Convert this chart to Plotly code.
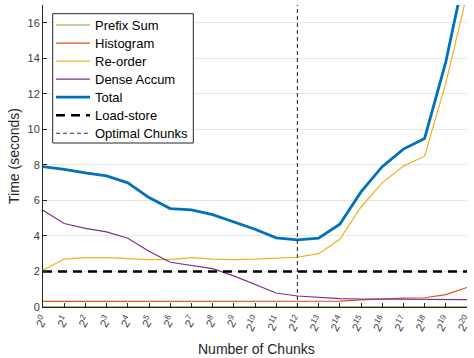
import plotly.graph_objects as go

# Chunk count exponents: number of chunks = 2^k
exponents = list(range(21))
tick_labels = [f"2<sup>{k}</sup>" for k in exponents]

# Per-phase run time in seconds
prefix_sum = [0.01] * 21
histogram = [0.32, 0.32, 0.32, 0.32, 0.32, 0.32, 0.32, 0.32, 0.32, 0.32, 0.32,
             0.32, 0.32, 0.32, 0.33, 0.40, 0.46, 0.50, 0.52, 0.70, 1.10]
reorder = [2.07, 2.70, 2.78, 2.78, 2.72, 2.67, 2.67, 2.78, 2.70, 2.67, 2.69,
           2.74, 2.80, 3.00, 3.81, 5.63, 6.99, 7.93, 8.49, 12.6, 17.6]
dense_accum = [5.45, 4.70, 4.43, 4.23, 3.87, 3.14, 2.52, 2.35, 2.16, 1.75, 1.26,
               0.79, 0.62, 0.53, 0.47, 0.45, 0.45, 0.44, 0.43, 0.42, 0.42]
total = [7.90, 7.75, 7.55, 7.38, 6.99, 6.16, 5.54, 5.47, 5.20, 4.80, 4.38,
         3.89, 3.78, 3.87, 4.66, 6.48, 7.90, 8.89, 9.49, 13.8, 19.4]
load_store = 2.0
optimal_exp = 12

y_max = 17
font_family = "Liberation Sans, Arial, sans-serif"

# (name, y-values, colour, width, dash)
series = [
    ("Prefix Sum", prefix_sum, "#77AC30", 1.2, "solid"),
    ("Histogram", histogram, "#D95319", 1.2, "solid"),
    ("Re-order", reorder, "#EDB120", 1.2, "solid"),
    ("Dense Accum", dense_accum, "#7E2F8E", 1.2, "solid"),
    ("Total", total, "#0072BD", 2.8, "solid"),
]
load_style = ("Load-store", "black", 2.6, "9px,6px")
optimal_style = ("Optimal Chunks", "#333333", 1.1, "4px,3px")

fig = go.Figure()

for name, values, color, width, dash in series:
    fig.add_trace(go.Scatter(
        x=exponents, y=values, mode="lines", name=name, showlegend=False,
        line=dict(color=color, width=width, dash=dash),
    ))

fig.add_trace(go.Scatter(
    x=[exponents[0], exponents[-1]], y=[load_store, load_store],
    mode="lines", name=load_style[0], showlegend=False,
    line=dict(color=load_style[1], width=load_style[2], dash=load_style[3]),
))
fig.add_trace(go.Scatter(
    x=[optimal_exp, optimal_exp], y=[0, y_max],
    mode="lines", name=optimal_style[0], showlegend=False,
    line=dict(color=optimal_style[1], width=optimal_style[2], dash=optimal_style[3]),
))

# Fixed plot-area geometry (pixels)
plot_left, plot_width = 43, 424
plot_bottom, plot_height = 307, 302


def px_x(px):
    return (px - plot_left) / plot_width


def px_y(px):
    return (plot_bottom - px) / plot_height


# Boxed legend in the upper-left corner of the plot area
legend_entries = [(n, c, w, d) for n, _, c, w, d in series] + [load_style, optimal_style]
shapes = [dict(
    type="rect", xref="paper", yref="paper", layer="above",
    x0=px_x(52.7), x1=px_x(193.3), y0=px_y(143), y1=px_y(13.7),
    line=dict(color="#262626", width=1), fillcolor="white",
)]
annotations = []
for i, (name, color, width, dash) in enumerate(legend_entries):
    row_y = px_y(25 + 18.05 * i)
    shapes.append(dict(
        type="line", xref="paper", yref="paper", layer="above",
        x0=px_x(56), x1=px_x(90), y0=row_y, y1=row_y,
        line=dict(color=color, width=width, dash=dash),
    ))
    annotations.append(dict(
        text=name, xref="paper", yref="paper", x=px_x(93.3), y=row_y,
        xanchor="left", yanchor="middle", showarrow=False,
        font=dict(size=13, color="#000000", family=font_family),
    ))

# Axis titles
annotations.append(dict(
    text="Number of Chunks", xref="paper", yref="paper",
    x=px_x(256), y=px_y(348.5), xanchor="center", yanchor="middle",
    showarrow=False, font=dict(size=14, color="#262626", family=font_family),
))
annotations.append(dict(
    text="Time (seconds)", xref="paper", yref="paper", textangle=-90,
    x=px_x(14), y=0.5, xanchor="center", yanchor="middle",
    showarrow=False, font=dict(size=14, color="#262626", family=font_family),
))

fig.update_layout(
    width=474, height=358,
    margin=dict(l=43, r=7, t=5, b=51, autoexpand=False),
    paper_bgcolor="white", plot_bgcolor="white",
    font=dict(family=font_family, color="#262626"),
    showlegend=False,
    shapes=shapes,
    annotations=annotations,
)

fig.update_xaxes(
    range=[0, 20], tickmode="array", tickvals=exponents, ticktext=tick_labels,
    tickangle=-60, ticks="inside", ticklen=4, tickcolor="#262626",
    ticklabeloverflow="allow", automargin=False,
    showline=True, linecolor="#262626", linewidth=1, showgrid=False,
    zeroline=False, tickfont=dict(size=11.5, color="#404040"),
)
fig.update_yaxes(
    range=[0, y_max], tickmode="array", tickvals=list(range(0, 17, 2)),
    ticks="inside", ticklen=4, tickcolor="#262626", automargin=False,
    showline=True, linecolor="#262626", linewidth=1,
    showgrid=True, gridcolor="#e6e6e6", gridwidth=1,
    zeroline=False, tickfont=dict(size=11, color="#404040"),
)

fig.write_html("out.html")
